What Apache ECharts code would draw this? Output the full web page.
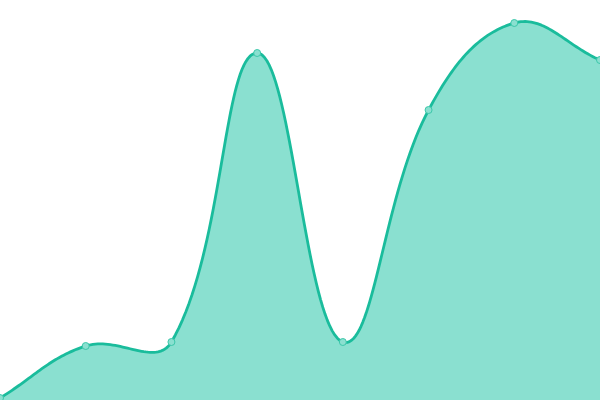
<!DOCTYPE html>
<html><head><meta charset="utf-8">
<script src="https://cdn.jsdelivr.net/npm/echarts@6/dist/echarts.min.js"></script>
<style>html,body{margin:0;padding:0;background:#fff}#c{width:600px;height:400px}</style>
</head><body><div id="c"></div>
<script>
const categories = ['A','B','C','D','E','F','G','H'];
const values = [2, 54, 58, 347, 58, 290, 377, 340];
const TENSION = 0.4;

function renderCurve(params, api) {
  if (params.dataIndex !== 0) return null;
  const cs = params.coordSys;
  const top = cs.y, bottom = cs.y + cs.height;
  const pts = values.map((v, i) => api.coord([i, v]));
  const cps = pts.map((p, i) => {
    const prev = pts[i - 1] || p, next = pts[i + 1] || p;
    const d01 = Math.hypot(p[0] - prev[0], p[1] - prev[1]);
    const d12 = Math.hypot(next[0] - p[0], next[1] - p[1]);
    let s01 = d01 / (d01 + d12), s12 = d12 / (d01 + d12);
    if (!isFinite(s01)) s01 = 0;
    if (!isFinite(s12)) s12 = 0;
    const fa = TENSION * s01, fb = TENSION * s12;
    const clampY = y => Math.max(top, Math.min(bottom, y));
    return {
      prev: [p[0] - fa * (next[0] - prev[0]), clampY(p[1] - fa * (next[1] - prev[1]))],
      next: [p[0] + fb * (next[0] - prev[0]), clampY(p[1] + fb * (next[1] - prev[1]))]
    };
  });
  const line = [pts[0]];
  const N = 40;
  for (let i = 0; i < pts.length - 1; i++) {
    const p0 = pts[i], c0 = cps[i].next, c1 = cps[i + 1].prev, p1 = pts[i + 1];
    for (let k = 1; k <= N; k++) {
      const t = k / N, u = 1 - t;
      line.push([
        u*u*u*p0[0] + 3*u*u*t*c0[0] + 3*u*t*t*c1[0] + t*t*t*p1[0],
        u*u*u*p0[1] + 3*u*u*t*c0[1] + 3*u*t*t*c1[1] + t*t*t*p1[1]
      ]);
    }
  }
  const base0 = api.coord([0, 0]), base1 = api.coord([values.length - 1, 0]);
  const area = line.concat([[base1[0], base1[1]], [base0[0], base0[1]]]);
  return {
    type: 'group',
    children: [
      {type: 'polygon', shape: {points: area}, style: {fill: '#8ae0d0', stroke: null}},
      {type: 'polyline', shape: {points: line}, style: {fill: null, stroke: '#1abc9c', lineWidth: 2.8, lineJoin: 'round'}}
    ]
  };
}

const chart = echarts.init(document.getElementById('c'));
chart.setOption({
  animation: false,
  grid: {left: 0, right: 0, top: 0, bottom: 0},
  xAxis: {type: 'category', data: categories, boundaryGap: false, show: false},
  yAxis: {type: 'value', min: 0, max: 400, show: false},
  series: [
    {
      type: 'custom',
      renderItem: renderCurve,
      data: values.map((v, i) => [i, v]),
      clip: false,
      z: 1
    },
    {
      type: 'scatter',
      data: values.map((v, i) => [i, v]),
      symbol: 'circle',
      symbolSize: 7,
      itemStyle: {color: '#8ae0d0', borderColor: '#3cc7aa', borderWidth: 1, opacity: 1},
      z: 3
    }
  ]
});
</script></body></html>
